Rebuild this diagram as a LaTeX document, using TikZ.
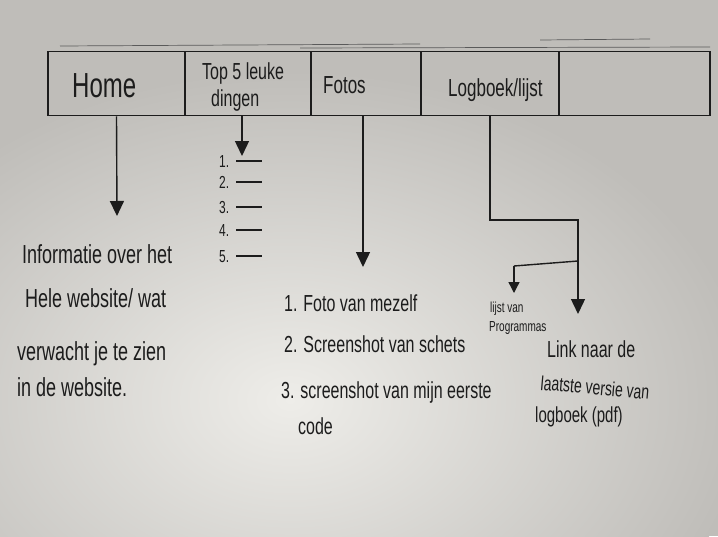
\documentclass[tikz,border=0pt]{standalone}
\usepackage{fontspec}
\setmainfont{Liberation Sans}
\usetikzlibrary{arrows.meta,calc}
\definecolor{ink}{HTML}{1C1C1C}
\definecolor{faint}{HTML}{5A5A5A}
\definecolor{boardbase}{HTML}{BFBDB9}
\definecolor{boardlight}{HTML}{EEEDE9}
\newcommand{\tall}[1]{\scalebox{1}[1.45]{#1}}
\begin{document}
\begin{tikzpicture}[x=1pt,y=-1pt,
  cell/.style={draw=ink,line width=1.5pt,minimum height=64pt,inner sep=0pt},
  conn/.style={draw=ink,line width=1.4pt},
  tip/.style={-{Triangle[length=15pt,width=14pt]}},
  smalltip/.style={-{Triangle[length=11pt,width=11pt]}},
  hand/.style={text=ink,inner sep=0pt,anchor=base west},
  menutxt/.style={hand,font=\fontsize{17}{19}\selectfont},
  infotxt/.style={hand,font=\fontsize{18}{20}\selectfont},
  fototxt/.style={hand,font=\fontsize{16}{18}\selectfont},
  numtxt/.style={hand,font=\fontsize{12}{14}\selectfont},
  stroke/.style={draw=faint,line width=0.7pt}]
\useasboundingbox (0,0) rectangle (718,536);
\fill[boardbase] (0,0) rectangle (718,536);
\shade[inner color=boardlight, outer color=boardbase] (290,400) ellipse (460 and 330);

% menu bar cells
\node[cell,minimum width=137pt] (home) at (116.5,83.5) {};
\node[cell,minimum width=126pt] (top5) at (248,83.5) {};
\node[cell,minimum width=110pt] (fotos) at (366,83.5) {};
\node[cell,minimum width=138pt] (log) at (490,83.5) {};
\node[cell,minimum width=151pt] (empty) at (634.5,83.5) {};
% sketchy extra strokes along the top edge
\coordinate (s1) at (60,46); \coordinate (s2) at (420,44);
\coordinate (s3) at (300,48); \coordinate (s4) at (710,47);
\coordinate (s5) at (540,40); \coordinate (s6) at (650,39);
\draw[stroke] (s1) -- (s2);
\draw[stroke] (s3) -- (s4);
\draw[stroke] (s5) -- (s6);

% menu labels
\node[hand,font=\fontsize{24}{26}\selectfont] (homet) at (72,97) {\tall{Home}};
\node[hand,font=\fontsize{16}{18}\selectfont] (top5a) at (202,79) {\tall{Top 5 leuke}};
\node[hand,font=\fontsize{16}{18}\selectfont] (top5b) at (211,106) {\tall{dingen}};
\node[menutxt] (fotost) at (323,93) {\tall{Fotos}};
\node[menutxt] (logt) at (448,96) {\tall{Logboek/lijst}};

% Home branch
\coordinate (homeend) at (117,216);
\draw[conn,tip] (home.south) -- (homeend);
\node[infotxt] (info1) at (22,263) {\tall{Informatie over het}};
\node[infotxt] (info2) at (25,307) {\tall{Hele website/ wat}};
\node[infotxt] (info3) at (17,360) {\tall{verwacht je te zien}};
\node[infotxt] (info4) at (17,396) {\tall{in de website.}};

% Top 5 branch
\coordinate (t5start) at (242,116);
\coordinate (t5end) at (242,156);
\draw[conn,tip] (t5start) -- (t5end);
\foreach \i/\y in {1/167,2/188,3/213,4/236,5/262}{
  \node[numtxt] (num\i) at (219,\y) {\tall{\i.}};
  \coordinate (la\i) at (236,\y-6);
  \coordinate (lb\i) at (262,\y-6);
  \draw[ink,line width=1.1pt] (la\i) -- (lb\i);
}

% Fotos branch
\coordinate (fstart) at (363,116);
\coordinate (fend) at (363,267);
\draw[conn,tip] (fstart) -- (fend);
\node[fototxt] (f1) at (284,311) {\tall{1. Foto van mezelf}};
\node[fototxt] (f2) at (284,352) {\tall{2. Screenshot van schets}};
\node[fototxt] (f3) at (281,398) {\tall{3. screenshot van mijn eerste}};
\node[fototxt] (f4) at (298,434) {\tall{code}};

% Logboek branch
\coordinate (lbend) at (490,220);
\coordinate (rbend) at (578,220);
\coordinate (branch) at (578,261);
\coordinate (lbranch) at (514,266);
\coordinate (rend) at (578,314);
\coordinate (lend) at (514,293);
\draw[conn] (log.south) -- (lbend) -- (rbend) -- (branch);
\draw[conn,tip] (branch) -- (rend);
\draw[conn] (branch) -- (lbranch);
\draw[conn,smalltip] (lbranch) -- (lend);
\node[hand,font=\fontsize{10}{12}\selectfont] (lijst1) at (490,312) {\tall{lijst van}};
\node[hand,font=\fontsize{10}{12}\selectfont] (lijst2) at (489,331) {\tall{Programmas}};
\node[fototxt] (link1) at (547,357) {\tall{Link naar de}};
\node[hand,font=\fontsize{14}{16}\selectfont,rotate=-5] (link2) at (540,390) {\tall{laatste versie van}};
\node[hand,font=\fontsize{15}{17}\selectfont] (link3) at (535,422) {\tall{logboek (pdf)}};
\end{tikzpicture}
\end{document}
